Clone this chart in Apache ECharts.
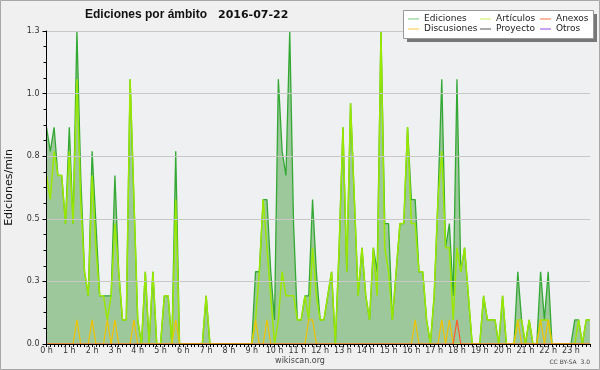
<!DOCTYPE html>
<html>
<head>
<meta charset="utf-8">
<script src="https://cdn.jsdelivr.net/npm/echarts@6/dist/echarts.min.js"></script>
<style>html,body{margin:0;padding:0;background:#f0f0f0;}#c{width:600px;height:370px;}</style>
</head>
<body>
<div id="c"></div>
<script>
// Edits per minute, 10-minute bins (144 per day)
var hourLabels = ['0 h','1 h','2 h','3 h','4 h','5 h','6 h','7 h','8 h','9 h','10 h','11 h',
  '12 h','13 h','14 h','15 h','16 h','17 h','18 h','19 h','20 h','21 h','22 h','23 h'];

var ediciones = [
0.9,0.8,0.9,0.7,0.7,0.5,0.9,0.5,1.3,0.7,0.3,0.2,
0.8,0.5,0.2,0.2,0.2,0.2,0.7,0.3,0.1,0.1,1.1,0.6,
0.1,0,0.3,0,0.3,0,0,0.2,0.2,0,0.8,0,
0,0,0,0,0,0,0.2,0,0,0,0,0,
0,0,0,0,0,0,0,0.3,0.3,0.6,0.6,0.3,
0.1,1.1,0.8,0.7,1.3,0.5,0.1,0.1,0.2,0.2,0.6,0.3,
0.1,0.1,0.2,0.3,0,0.4,0.9,0.3,1.0,0.6,0.2,0.4,
0.2,0.1,0.4,0.3,1.3,0.5,0.5,0.1,0.3,0.5,0.5,0.9,
0.6,0.6,0.3,0.3,0.1,0,0.2,0.6,1.1,0.4,0.5,0.2,
1.1,0.3,0.4,0.2,0,0,0,0.2,0.1,0.1,0.1,0,
0.2,0,0,0,0.3,0.1,0,0.1,0,0,0.3,0.1,
0.3,0,0,0,0,0,0,0.1,0.1,0,0.1,0.1];

var articulos = [
0.7,0.6,0.8,0.7,0.7,0.5,0.8,0.5,1.1,0.6,0.3,0.2,
0.7,0.4,0.2,0.2,0.1,0.2,0.5,0.3,0.1,0.1,1.1,0.6,
0.1,0,0.3,0,0.3,0,0,0.2,0.2,0,0.6,0,
0,0,0,0,0,0,0.2,0,0,0,0,0,
0,0,0,0,0,0,0,0.1,0.3,0.6,0.4,0.2,
0,0.1,0.3,0.2,0.2,0.2,0.1,0.1,0.2,0.1,0.4,0.2,
0.1,0.1,0.2,0.3,0,0.4,0.9,0.3,1.0,0.6,0.2,0.4,
0.2,0.1,0.4,0.2,1.3,0.4,0.3,0.1,0.3,0.5,0.5,0.9,
0.5,0.5,0.3,0.3,0.1,0,0.2,0.6,0.8,0.4,0.4,0.1,
0.4,0.3,0.4,0.2,0,0,0,0.2,0.1,0.1,0.1,0,
0.2,0,0,0,0.1,0.1,0,0.1,0,0,0.1,0.1,
0.1,0,0,0,0,0,0,0,0.1,0,0.1,0.1];

var discusiones = [
0,0,0,0,0,0,0,0,0.1,0,0,0,
0.1,0,0,0,0.1,0,0.1,0,0,0,0,0.1,
0,0,0,0,0,0,0,0,0,0,0.1,0,
0,0,0,0,0,0,0,0,0,0,0,0,
0,0,0,0,0,0,0,0.1,0,0,0.1,0,
0,0,0,0,0,0,0,0,0,0.1,0.1,0,
0,0,0,0,0,0,0,0,0,0,0,0,
0,0,0,0,0,0,0,0,0,0,0,0,
0,0.1,0,0,0,0,0,0,0.1,0,0.1,0,
0,0,0,0,0,0,0,0,0,0,0,0,
0,0,0,0,0.1,0,0,0,0,0,0.1,0,
0.1,0,0,0,0,0,0,0,0,0,0,0];

var anexos = [
0,0,0,0,0,0,0,0,0,0,0,0,
0,0,0,0,0,0,0,0,0,0,0,0,
0,0,0,0,0,0,0,0,0,0,0,0,
0,0,0,0,0,0,0,0,0,0,0,0,
0,0,0,0,0,0,0,0,0,0,0,0,
0,0,0,0,0,0,0,0,0,0,0,0,
0,0,0,0,0,0,0,0,0,0,0,0,
0,0,0,0,0,0,0,0,0,0,0,0,
0,0,0,0,0,0,0,0,0,0,0,0,
0.1,0,0,0,0,0,0,0,0,0,0,0,
0,0,0,0,0,0,0,0,0,0,0,0,
0,0,0,0,0,0,0,0,0,0,0,0];

var proyecto = [
0,0,0,0,0,0,0,0,0,0,0,0, 0,0,0,0,0,0,0,0,0,0,0,0,
0,0,0,0,0,0,0,0,0,0,0,0, 0,0,0,0,0,0,0,0,0,0,0,0,
0,0,0,0,0,0,0,0,0,0,0,0, 0,0,0,0,0,0,0,0,0,0,0,0,
0,0,0,0,0,0,0,0,0,0,0,0, 0,0,0,0,0,0,0,0,0,0,0,0,
0,0,0,0,0,0,0,0,0,0,0,0, 0,0,0,0,0,0,0,0,0,0,0,0,
0,0,0,0,0,0,0,0,0,0,0,0, 0,0,0,0,0,0,0,0,0,0,0,0];

var otros = [
0,0,0,0,0,0,0,0,0,0,0,0, 0,0,0,0,0,0,0,0,0,0,0,0,
0,0,0,0,0,0,0,0,0,0,0,0, 0,0,0,0,0,0,0,0,0,0,0,0,
0,0,0,0,0,0,0,0,0,0,0,0, 0,0,0,0,0,0,0,0,0,0,0,0,
0,0,0,0,0,0,0,0,0,0,0,0, 0,0,0,0,0,0,0,0,0,0,0,0,
0,0,0,0,0,0,0,0,0,0,0,0, 0,0,0,0,0,0,0,0,0,0,0,0,
0,0,0,0,0,0,0,0,0,0,0,0, 0,0,0,0,0,0,0,0,0,0,0,0];

// category per 10-minute bin
var categories = [];
for (var h = 0; h < 24; h++) {
  for (var m = 0; m < 60; m += 10) {
    categories.push(h + ':' + (m < 10 ? '0' : '') + m);
  }
}

var FONT = 'DejaVu Sans';
var chart = echarts.init(document.getElementById('c'), null, {renderer: 'canvas'});

function legendCol(left, items) {
  return {
    left: left, top: 14, orient: 'vertical', padding: 0, itemGap: 0,
    itemWidth: 11, itemHeight: 1, icon: 'rect', selectedMode: false, z: 20,
    textStyle: {fontFamily: FONT, fontSize: 9, lineHeight: 10, color: '#222', padding: [0,0,0,0]},
    data: items
  };
}

var option = {
  backgroundColor: '#f0f0f0',
  animation: false,
  grid: {left: 46.5, right: 10, top: 31, bottom: 26, show: true, backgroundColor: '#eef0f2', borderWidth: 0,
    containLabel: false, outerBoundsMode: 'none'},
  legend: [
    legendCol(408, [{name: 'Ediciones', itemStyle: {color: '#7cc87c'}}, {name: 'Discusiones', itemStyle: {color: '#f5c842'}}]),
    legendCol(480, [{name: 'Artículos', itemStyle: {color: '#c4ee55'}}, {name: 'Proyecto', itemStyle: {color: '#555555'}}]),
    legendCol(540, [{name: 'Anexos', itemStyle: {color: '#ff7040'}}, {name: 'Otros', itemStyle: {color: '#9944ee'}}])
  ],
  xAxis: {
    type: 'category', data: categories, boundaryGap: false, z: 10,
    axisLine: {show: true, lineStyle: {color: '#000', width: 1}},
    axisTick: {show: true, interval: 0, length: 3, lineStyle: {color: '#000'}},
    axisLabel: {
      interval: 5, margin: 3, fontFamily: FONT, fontSize: 8, color: '#333',
      formatter: function (v, i) { return hourLabels[i / 6]; }
    },
    splitLine: {show: false}
  },
  yAxis: {
    type: 'value', min: 0, max: 1.3, interval: 0.26, z: 10,
    name: 'Ediciones/min', nameLocation: 'middle', nameGap: 32,
    nameTextStyle: {fontFamily: FONT, fontSize: 11, color: '#111'},
    axisLine: {show: true, lineStyle: {color: '#000', width: 1}},
    axisTick: {show: true, length: 4, lineStyle: {color: '#000'}},
    minorTick: {show: true, splitNumber: 4, length: 3, lineStyle: {color: '#000'}},
    axisLabel: {margin: 7, fontFamily: FONT, fontSize: 8, color: '#333',
      formatter: function (v) { return v.toFixed(1); }},
    splitLine: {show: true, lineStyle: {color: '#c8c8c8', width: 1}}
  },
  series: [
    {name: 'Proyecto', type: 'line', data: proyecto, symbol: 'none', z: 1,
      itemStyle: {color: '#555555'}, lineStyle: {color: '#555555', width: 1}},
    {name: 'Otros', type: 'line', data: otros, symbol: 'none', z: 1,
      itemStyle: {color: '#9944ee'}, lineStyle: {color: '#9944ee', width: 1}},
    {name: 'Ediciones', type: 'line', data: ediciones, symbol: 'none', z: 2,
      itemStyle: {color: '#33a833'}, lineStyle: {color: '#33a833', width: 1.3},
      areaStyle: {color: '#9cc89c', opacity: 1}},
    {name: 'Artículos', type: 'line', data: articulos, symbol: 'none', z: 3,
      itemStyle: {color: '#9ae800'}, lineStyle: {color: '#9ae800', width: 1.5}},
    {name: 'Discusiones', type: 'line', data: discusiones, symbol: 'none', z: 4,
      itemStyle: {color: '#f2c200'}, lineStyle: {color: '#f2c200', width: 1.2}},
    {name: 'Anexos', type: 'line', data: anexos, symbol: 'none', z: 5,
      itemStyle: {color: '#ff5a2a'}, lineStyle: {color: '#ff5a2a', width: 1.2}}
  ],
  graphic: [
    {type: 'rect', z: 0, silent: true, shape: {x: 0.5, y: 0.5, width: 599, height: 369},
      style: {fill: 'none', stroke: '#a8a8a8', lineWidth: 1}},
    {type: 'rect', z: 15, silent: true, shape: {x: 407, y: 14, width: 190, height: 28},
      style: {fill: '#777777'}},
    {type: 'rect', z: 16, silent: true, shape: {x: 403.5, y: 10.5, width: 190, height: 28},
      style: {fill: '#ffffff', stroke: '#999999', lineWidth: 1}},
    {type: 'text', z: 20, silent: true,
      style: {x: 85, y: 15, text: 'Ediciones por ámbito', fontFamily: 'Liberation Sans', fontSize: 12,
        fontWeight: 'bold', fill: '#111', verticalAlign: 'middle', textVerticalAlign: 'middle'}},
    {type: 'text', z: 20, silent: true,
      style: {x: 218, y: 15, text: '2016-07-22', fontFamily: FONT, fontSize: 11,
        fontWeight: 'bold', fill: '#111', verticalAlign: 'middle', textVerticalAlign: 'middle'}},
    {type: 'text', z: 20, silent: true,
      style: {x: 300, y: 361, text: 'wikiscan.org', fontFamily: FONT, fontSize: 8, fill: '#444',
        align: 'center', textAlign: 'center', verticalAlign: 'middle', textVerticalAlign: 'middle'}},
    {type: 'text', z: 20, silent: true,
      style: {x: 590, y: 362, text: 'CC BY-SA  3.0', fontFamily: FONT, fontSize: 6, fill: '#444',
        align: 'right', textAlign: 'right', verticalAlign: 'middle', textVerticalAlign: 'middle'}}
  ]
};
chart.setOption(option);
</script>
</body>
</html>
